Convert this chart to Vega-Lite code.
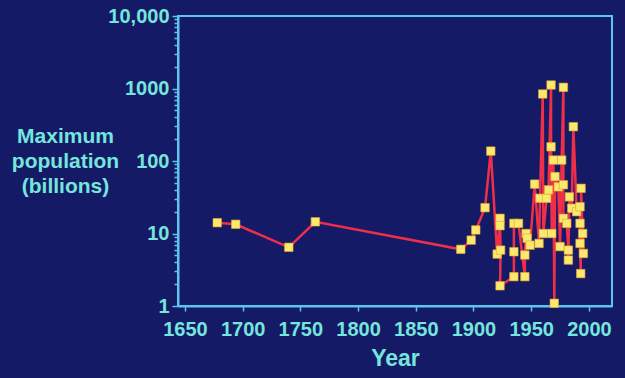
{
  "$schema": "https://vega.github.io/schema/vega-lite/v6.json",
  "autosize": "none",
  "width": 434,
  "height": 290,
  "padding": {"left": 178, "top": 16, "right": 13, "bottom": 72},
  "background": "#141a66",
  "config": {
    "view": {"stroke": "#5cc6ea", "strokeWidth": 2},
    "font": "Liberation Sans",
    "axis": {
      "domainColor": "#5cc6ea", "domainWidth": 2,
      "tickColor": "#5cc6ea", "tickWidth": 1.5,
      "labelColor": "#74e6dc", "labelFont": "Liberation Sans", "labelFontWeight": "bold", "labelFontSize": 20,
      "titleColor": "#74e6dc", "titleFont": "Liberation Sans", "titleFontWeight": "bold", "titleFontSize": 21,
      "grid": false
    }
  },
  "data": {"values": [
    {"n": 1, "year": 1678, "pop": 14.1},
    {"n": 2, "year": 1694, "pop": 13.4},
    {"n": 3, "year": 1740, "pop": 6.45},
    {"n": 4, "year": 1763, "pop": 14.5},
    {"n": 5, "year": 1889, "pop": 6.05},
    {"n": 6, "year": 1898, "pop": 8.1},
    {"n": 7, "year": 1902, "pop": 11.2},
    {"n": 8, "year": 1910, "pop": 22.7},
    {"n": 9, "year": 1915, "pop": 137},
    {"n": 10, "year": 1920.5, "pop": 5.2},
    {"n": 11, "year": 1923, "pop": 16.2},
    {"n": 12, "year": 1923, "pop": 12.8},
    {"n": 13, "year": 1923.5, "pop": 5.9},
    {"n": 14, "year": 1923, "pop": 1.9},
    {"n": 15, "year": 1935, "pop": 2.54},
    {"n": 16, "year": 1935, "pop": 5.6},
    {"n": 17, "year": 1935, "pop": 13.8},
    {"n": 18, "year": 1939, "pop": 13.8},
    {"n": 19, "year": 1944.5, "pop": 2.54},
    {"n": 20, "year": 1944.5, "pop": 5.05},
    {"n": 21, "year": 1945.5, "pop": 10.0},
    {"n": 22, "year": 1946.5, "pop": 8.6},
    {"n": 23, "year": 1949, "pop": 6.9},
    {"n": 24, "year": 1953, "pop": 48},
    {"n": 25, "year": 1956.8, "pop": 7.3},
    {"n": 26, "year": 1957.6, "pop": 30.6},
    {"n": 27, "year": 1960, "pop": 840},
    {"n": 28, "year": 1960.5, "pop": 10},
    {"n": 29, "year": 1963.4, "pop": 30.6},
    {"n": 30, "year": 1965, "pop": 40},
    {"n": 31, "year": 1967.2, "pop": 1117},
    {"n": 32, "year": 1967.2, "pop": 157},
    {"n": 33, "year": 1967.8, "pop": 10},
    {"n": 34, "year": 1969.2, "pop": 103},
    {"n": 35, "year": 1970, "pop": 1.09},
    {"n": 36, "year": 1970.7, "pop": 61},
    {"n": 37, "year": 1973.5, "pop": 44},
    {"n": 38, "year": 1975, "pop": 6.6},
    {"n": 39, "year": 1976.4, "pop": 103},
    {"n": 40, "year": 1977.9, "pop": 1038},
    {"n": 41, "year": 1977.9, "pop": 47},
    {"n": 42, "year": 1977.9, "pop": 16.2},
    {"n": 43, "year": 1980.8, "pop": 13.8},
    {"n": 44, "year": 1982.2, "pop": 5.9},
    {"n": 45, "year": 1982.2, "pop": 4.3},
    {"n": 46, "year": 1983.1, "pop": 32},
    {"n": 47, "year": 1985.1, "pop": 22.3},
    {"n": 48, "year": 1986.5, "pop": 297},
    {"n": 49, "year": 1989.4, "pop": 20},
    {"n": 50, "year": 1992.3, "pop": 23.4},
    {"n": 51, "year": 1992.3, "pop": 13.8},
    {"n": 52, "year": 1992.3, "pop": 7.3},
    {"n": 53, "year": 1992.9, "pop": 2.8},
    {"n": 54, "year": 1993.2, "pop": 42},
    {"n": 55, "year": 1994.6, "pop": 10},
    {"n": 56, "year": 1995.2, "pop": 5.3}
  ]},
  "encoding": {
    "x": {
      "field": "year", "type": "quantitative",
      "scale": {"domain": [1644, 2020], "nice": false, "zero": false},
      "axis": {
        "values": [1650, 1700, 1750, 1800, 1850, 1900, 1950, 2000],
        "format": "d", "tickSize": 5, "labelPadding": 8,
        "title": "Year", "titlePadding": 8, "titleFontSize": 23
      }
    },
    "y": {
      "field": "pop", "type": "quantitative",
      "scale": {"type": "log", "domain": [1, 10000], "nice": false},
      "axis": {
        "values": [1,2,3,4,5,6,7,8,9,10,20,30,40,50,60,70,80,90,100,200,300,400,500,600,700,800,900,1000,2000,3000,4000,5000,6000,7000,8000,9000,10000],
        "labelExpr": "datum.value == 10000 ? '10,000' : (indexof([1,10,100,1000], datum.value) >= 0 ? '' + datum.value : '')",
        "tickSize": {"condition": {"test": "indexof([1,10,100,1000,10000], datum.value) >= 0", "value": 6}, "value": 4},
        "labelPadding": 3,
        "labelBound": false,
        "title": ["Maximum", "population", "(billions)"],
        "titleAngle": 0,
        "titleAlign": "center",
        "titleBaseline": "middle",
        "titleX": -113,
        "titleY": 120,
        "titleLineHeight": 25
      }
    },
    "order": {"field": "n", "type": "quantitative"}
  },
  "layer": [
    {"mark": {"type": "line", "color": "#ee2f4a", "strokeWidth": 2.5}},
    {"mark": {"type": "square", "color": "#f8ea6e", "opacity": 1, "filled": true, "size": 72, "stroke": "#f0a030", "strokeWidth": 0.6}}
  ]
}
